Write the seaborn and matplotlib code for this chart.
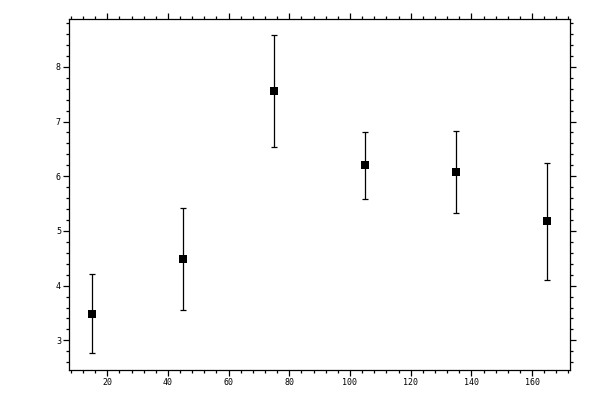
import matplotlib
matplotlib.use("Agg")
import matplotlib.pyplot as plt
from matplotlib.ticker import MultipleLocator
import seaborn as sns
import pandas as pd

x_values = [15, 45, 75, 105, 135, 165]
y_values = [3.49, 4.48, 7.56, 6.20, 6.07, 5.18]
y_errors = [0.72, 0.93, 1.02, 0.61, 0.75, 1.07]

df = pd.DataFrame({"x": x_values, "y": y_values, "err": y_errors})

sns.set_style("white")
plt.rcParams['font.family'] = ['DejaVu Sans Mono', 'DejaVu Sans']

fig = plt.figure(figsize=(6, 4), dpi=100)
ax = fig.add_axes([0.1155, 0.075, 0.8345, 0.877])

ax.errorbar(df["x"], df["y"], yerr=df["err"], fmt="none", ecolor="black",
            elinewidth=0.9, capsize=2.2, capthick=0.9, zorder=2)
sns.scatterplot(data=df, x="x", y="y", marker="s", s=30, color="black",
                edgecolor="black", linewidth=0, ax=ax, zorder=3)

ax.set_xlim(7.5, 172.5)
ax.set_ylim(2.458, 8.87)
ax.set_xlabel("")
ax.set_ylabel("")

ax.xaxis.set_major_locator(MultipleLocator(20))
ax.xaxis.set_minor_locator(MultipleLocator(4))
ax.yaxis.set_major_locator(MultipleLocator(1))
ax.yaxis.set_minor_locator(MultipleLocator(0.2))

ax.tick_params(which="both", direction="out", top=True, right=True,
               bottom=True, left=True, color="black", width=0.9,
               labelsize=6, labelcolor="black")
ax.tick_params(which="major", length=4, pad=2)
ax.tick_params(which="minor", length=2.2)

for s in ax.spines.values():
    s.set_color("black")
    s.set_linewidth(0.9)

fig.savefig("out.png", dpi=100)
